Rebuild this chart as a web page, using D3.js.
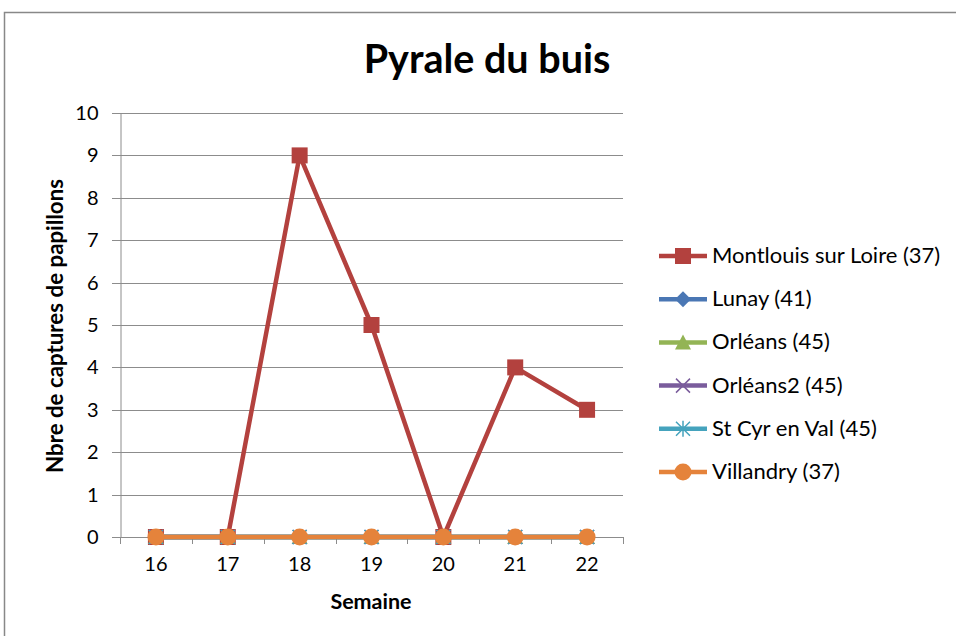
<!DOCTYPE html>
<html>
<head>
<meta charset="utf-8">
<script src="https://cdn.jsdelivr.net/npm/d3@7"></script>
<style>
  body { margin: 0; background: #fff; }
  text { font-family: Lato, "Open Sans", sans-serif; }
</style>
</head>
<body>
<svg id="chart" width="956" height="636"></svg>
<script>
// data
const weeks = ["16", "17", "18", "19", "20", "21", "22"];
const seriesNames = ["Montlouis sur Loire (37)", "Lunay (41)", "Orléans (45)", "Orléans2 (45)", "St Cyr en Val (45)", "Villandry (37)"];
const montlouis = [0, 0, 9, 5, 0, 4, 3];
const lunay = [0, 0, 0, 0, 0, 0, 0];
const orleans = [0, 0, 0, 0, 0, 0, 0];
const orleans2 = [0, 0, 0, 0, 0, 0, 0];
const stCyr = [0, 0, 0, 0, 0, 0, 0];
const villandry = [0, 0, 0, 0, 0, 0, 0];
const yTicks = [0, 1, 2, 3, 4, 5, 6, 7, 8, 9, 10];

const colors = ["#b3413e", "#4a77b4", "#93b455", "#7a5c9c", "#45a3bd", "#e5833b"];
const markers = ["square", "diamond", "triangle", "x", "star", "circle"];
const allValues = [montlouis, lunay, orleans, orleans2, stCyr, villandry];

const series = seriesNames.map((name, i) => ({
    name: name,
    values: allValues[i],
    color: colors[i],
    marker: markers[i]
}));

const svg = d3.select("#chart");

// outer chart frame
svg.append("rect")
    .attr("x", 4.5).attr("y", 12.5)
    .attr("width", 1000).attr("height", 1000)
    .attr("fill", "none").attr("stroke", "#888").attr("stroke-width", 1.5);

const plotLeft = 120, plotRight = 623, plotTop = 113, plotBottom = 537;

const x = d3.scaleBand().domain(weeks).range([plotLeft, plotRight]);
const y = d3.scaleLinear().domain([0, 10]).range([plotBottom, plotTop]);

// gridlines
svg.append("g")
    .selectAll("line")
    .data(yTicks)
    .enter().append("line")
    .attr("x1", plotLeft - 8).attr("x2", plotRight)
    .attr("y1", d => Math.round(y(d)) + 0.5)
    .attr("y2", d => Math.round(y(d)) + 0.5)
    .attr("stroke", "#8c8c8c").attr("stroke-width", 1);

// y axis
const yAxis = svg.append("g")
    .attr("transform", `translate(${plotLeft + 0.5},0)`)
    .call(d3.axisLeft(y).tickValues(yTicks).tickSize(0).tickPadding(22));
yAxis.select(".domain").attr("stroke", "#8c8c8c");
yAxis.selectAll("text").style("font-size", "20px").attr("fill", "#000")
    .style("font-family", "Lato, sans-serif");

// x axis
const xAxis = svg.append("g")
    .attr("transform", `translate(0,${Math.round(plotBottom) + 0.5})`)
    .call(d3.axisBottom(x).tickSize(0).tickPadding(19));
xAxis.select(".domain").remove();
xAxis.selectAll("text").style("font-size", "20px").attr("fill", "#000")
    .style("font-family", "Lato, sans-serif");

// category boundary ticks
const bounds = weeks.map(w => x(w)).concat([plotRight]);
svg.append("g")
    .selectAll("line")
    .data(bounds)
    .enter().append("line")
    .attr("x1", d => Math.round(d) + 0.5).attr("x2", d => Math.round(d) + 0.5)
    .attr("y1", plotBottom).attr("y2", plotBottom + 7)
    .attr("stroke", "#8c8c8c");

// titles
svg.append("text")
    .attr("x", 487).attr("y", 73)
    .attr("text-anchor", "middle")
    .style("font-size", "39.5px").style("font-weight", "bold")
    .text("Pyrale du buis");

svg.append("text")
    .attr("x", 371).attr("y", 609)
    .attr("text-anchor", "middle")
    .style("font-size", "21.5px").style("font-weight", "bold")
    .text("Semaine");

svg.append("text")
    .attr("transform", "translate(63,326) rotate(-90)")
    .attr("text-anchor", "middle")
    .style("font-size", "22.3px").style("font-weight", "bold")
    .text("Nbre de captures de papillons");

function drawMarker(g, type, color) {
    if (type === "square") {
        g.append("rect").attr("x", -8).attr("y", -8).attr("width", 16).attr("height", 16)
            .attr("fill", color);
    } else if (type === "diamond") {
        g.append("path").attr("d", "M0,-8L8,0L0,8L-8,0Z").attr("fill", color);
    } else if (type === "triangle") {
        g.append("path").attr("d", "M0,-8L8,7L-8,7Z").attr("fill", color);
    } else if (type === "x") {
        g.append("path").attr("d", "M-7,-7L7,7M-7,7L7,-7")
            .attr("stroke", color).attr("stroke-width", 1.5);
    } else if (type === "star") {
        g.append("path").attr("d", "M-7,-7L7,7M-7,7L7,-7M0,-8L0,8")
            .attr("stroke", color).attr("stroke-width", 1.5);
    } else {
        g.append("circle").attr("r", 8.5).attr("fill", color);
    }
}

const line = d3.line()
    .x((d, i) => x(weeks[i]) + x.bandwidth() / 2)
    .y(d => y(d));

// series lines + markers
series.forEach(s => {
    svg.append("path")
        .datum(s.values)
        .attr("d", line)
        .attr("fill", "none")
        .attr("stroke", s.color)
        .attr("stroke-width", 4.5)
        .attr("stroke-linejoin", "round");

    s.values.forEach((v, i) => {
        const g = svg.append("g")
            .attr("transform", `translate(${x(weeks[i]) + x.bandwidth() / 2},${y(v)})`);
        drawMarker(g, s.marker, s.color);
    });
});

// legend
const legend = svg.append("g").attr("transform", "translate(659,256)");
series.forEach((s, i) => {
    const row = legend.append("g").attr("transform", `translate(0,${i * 43.2})`);
    row.append("line")
        .attr("x1", 0).attr("x2", 48)
        .attr("stroke", s.color).attr("stroke-width", 4.5);
    drawMarker(row.append("g").attr("transform", "translate(24,0)"), s.marker, s.color);
    row.append("text")
        .attr("x", 53).attr("y", 7)
        .style("font-size", "22px")
        .text(s.name);
});
</script>
</body>
</html>
